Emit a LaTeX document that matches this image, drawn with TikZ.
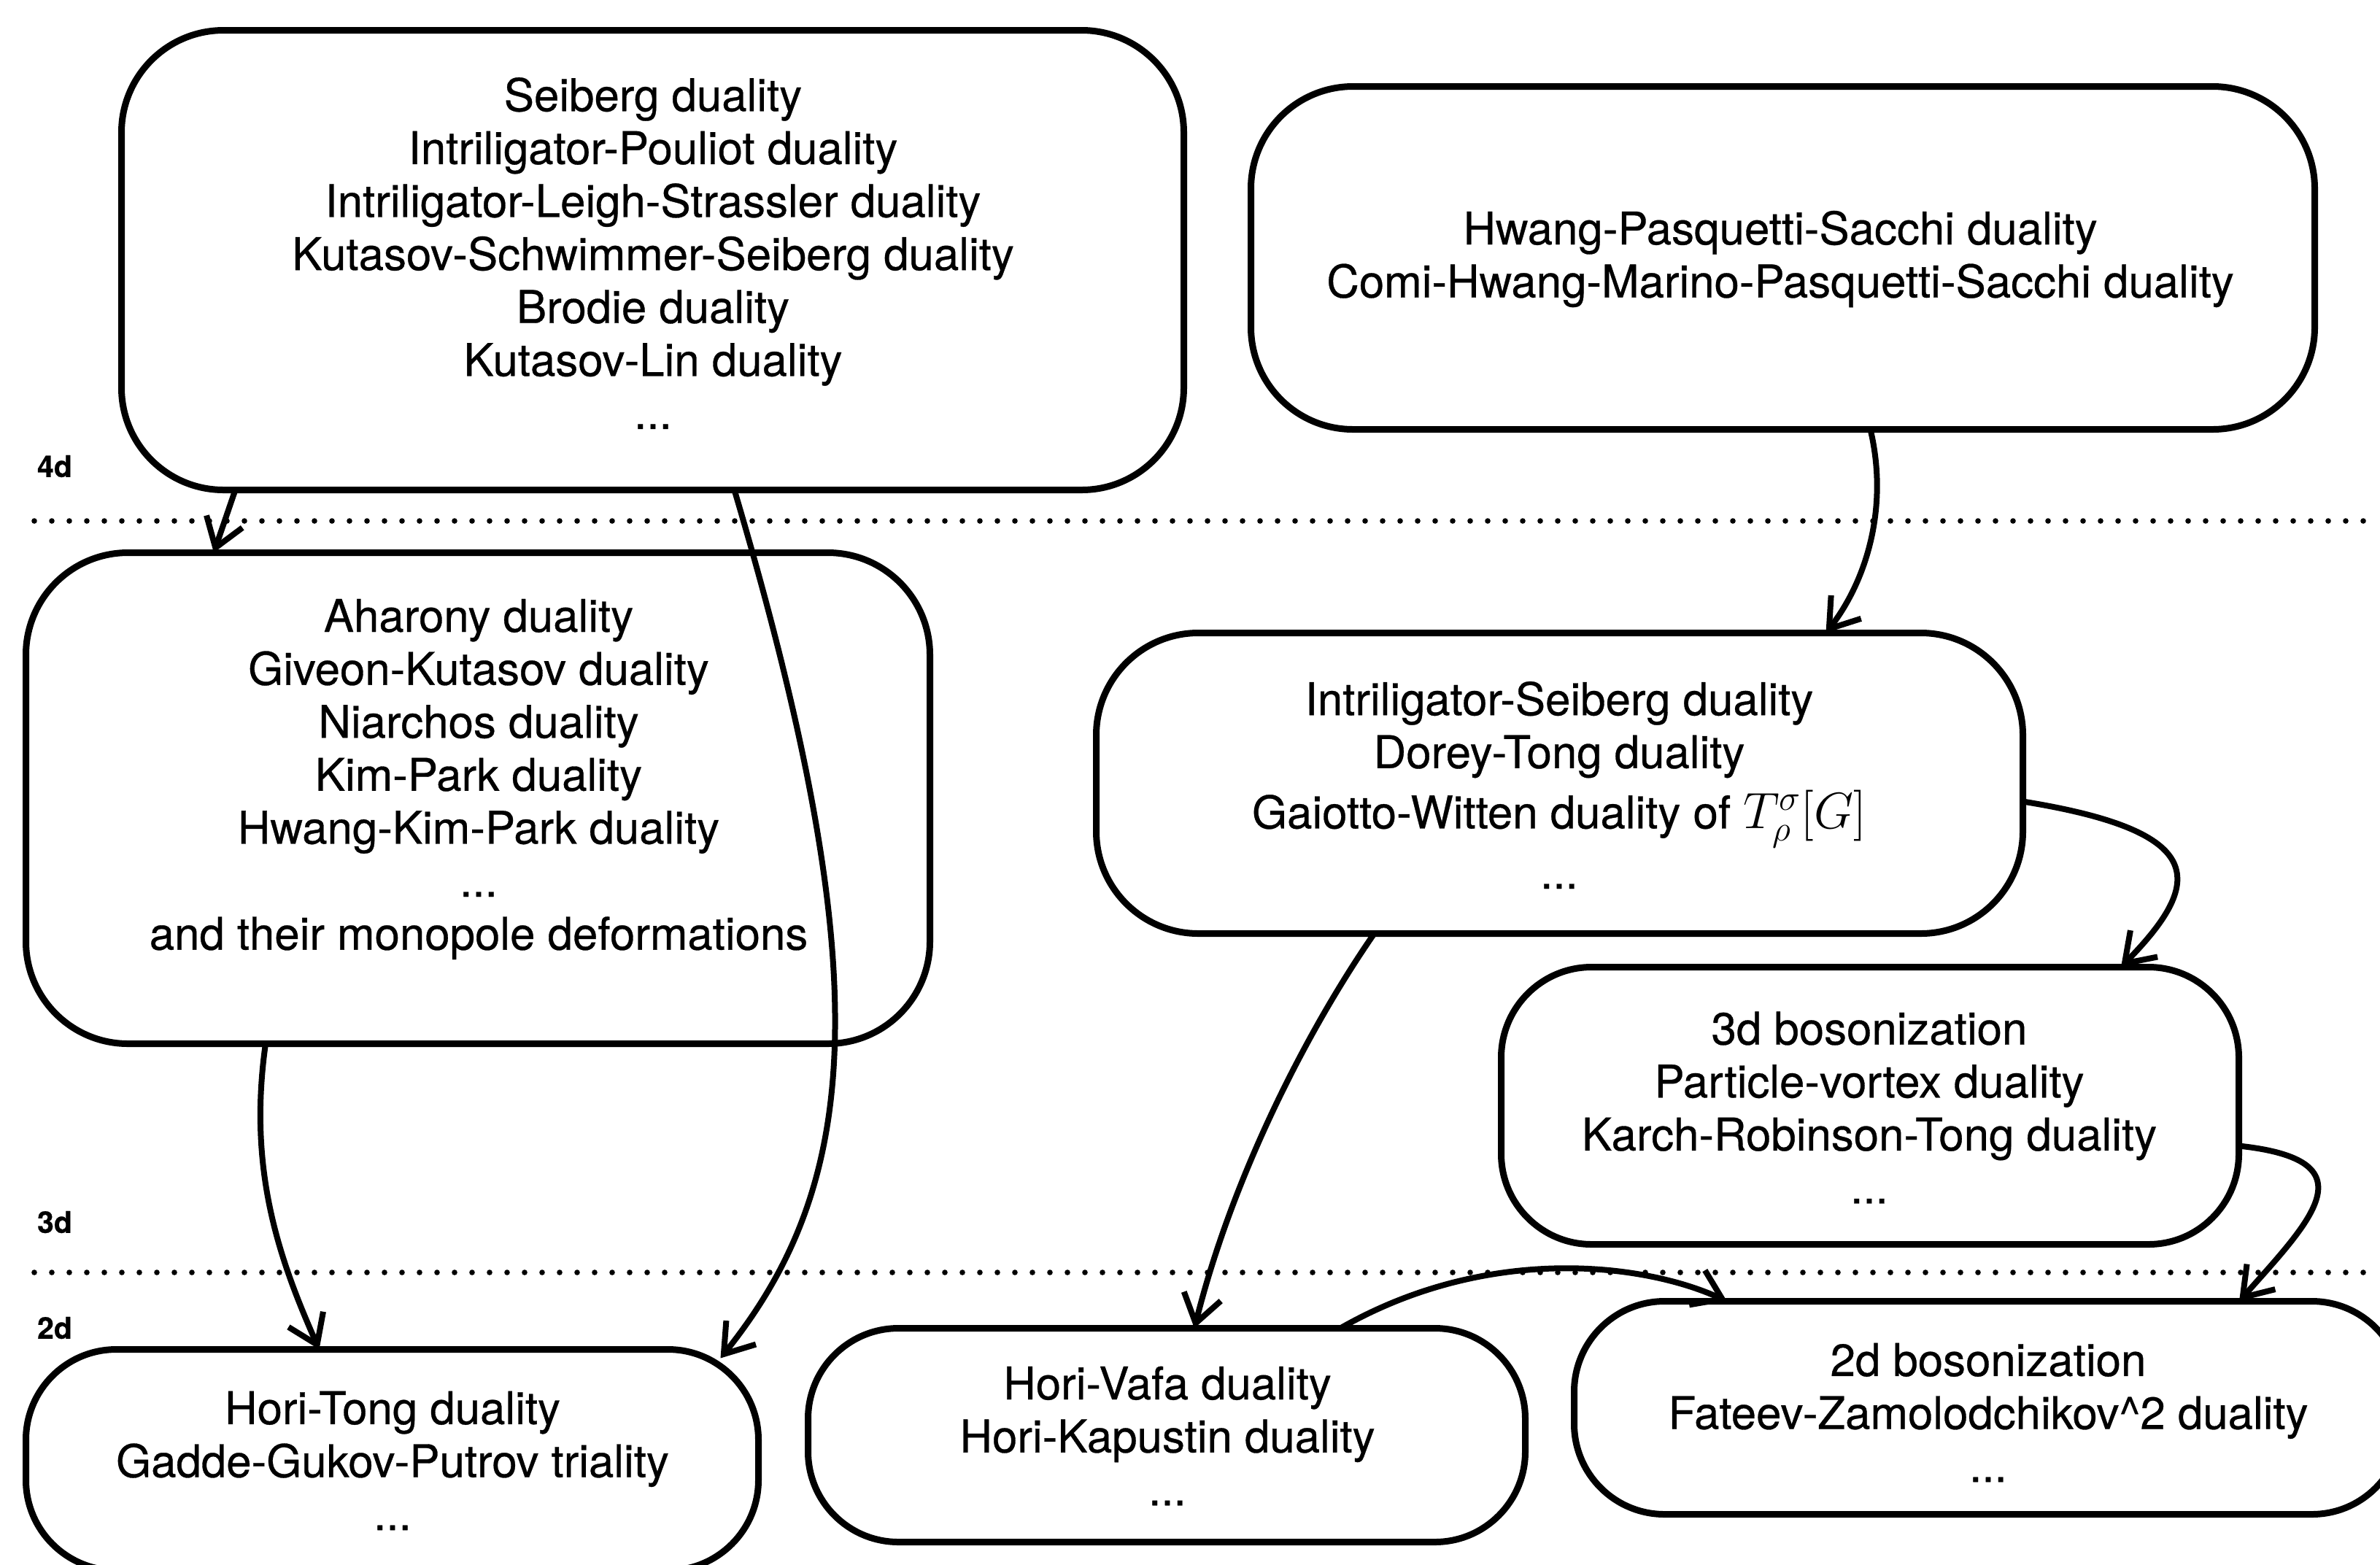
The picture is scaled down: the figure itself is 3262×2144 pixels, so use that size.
\RequirePackage{fix-cm}
\documentclass[tikz,border=0pt]{standalone}
\usepackage{fontspec}
\setmainfont{TeX Gyre Heros}[FakeBold=0.5]
\usetikzlibrary{arrows.meta,calc}

\begin{document}
\begin{tikzpicture}[x=0.5pt,y=-0.5pt,
  every node/.style={inner sep=0pt, outer sep=0pt},
  dualbox/.style={draw, line width=4.5pt, rectangle, rounded corners=#1},
  dualbox/.default=70pt,
  duallist/.style={align=center, font=\fontsize{30.9pt}{36.3pt}\selectfont},
  dimlabel/.style={font=\fontsize{20.5pt}{24pt}\selectfont\bfseries},
  levelline/.style={line width=3.8pt, line cap=round, dash pattern=on 0pt off 12pt},
  flow/.style={line width=4pt, line join=miter, -{Straight Barb[length=19pt,width=26pt]}}
]
\useasboundingbox (0,0) rectangle (3262,2144);

% dimension separators
\draw[levelline] (47,714) -- (3262,714);
\draw[levelline] (47,1744) -- (3262,1744);
\node[dimlabel] (d4) at (75,639) {4d};
\node[dimlabel] (d3) at (75,1675) {3d};
\node[dimlabel] (d2) at (75,1820) {2d};

% 4d boxes
\node[dualbox, minimum width=728pt, minimum height=315pt] (A) at (894.5,356.5) {};
\node[duallist] (At) at (895,347) {Seiberg duality\\Intriligator-Pouliot duality\\Intriligator-Leigh-Strassler duality\\Kutasov-Schwimmer-Seiberg duality\\Brodie duality\\Kutasov-Lin duality\\...};

\node[dualbox, minimum width=729pt, minimum height=235pt] (B) at (2443.5,353.5) {};
\node[duallist] (Bt) at (2440,355) {Hwang-Pasquetti-Sacchi duality\\Comi-Hwang-Marino-Pasquetti-Sacchi duality};

% 3d boxes
\node[dualbox, minimum width=619.5pt, minimum height=336.5pt] (C) at (655,1094) {};
\node[duallist] (Ct) at (656,1068) {Aharony duality\\Giveon-Kutasov duality\\Niarchos duality\\Kim-Park duality\\Hwang-Kim-Park duality\\...\\and their monopole deformations};

\node[dualbox, minimum width=635pt, minimum height=206pt] (D) at (2137.5,1073.5) {};
\node[duallist] (Dt) at (2137,1076) {Intriligator-Seiberg duality\\Dorey-Tong duality\\[5pt]Gaiotto-Witten duality of {\fontsize{35pt}{36.3pt}\selectfont$T^{\sigma}_{\rho}[G]$}\\[5pt]...};

\node[dualbox=62pt, minimum width=505.5pt, minimum height=190pt] (E) at (2563,1515.5) {};
\node[duallist] (Et) at (2562,1518) {3d bosonization\\Particle-vortex duality\\Karch-Robinson-Tong duality\\...};

% 2d boxes
\node[dualbox=62pt, minimum width=502pt, minimum height=151.5pt] (F) at (537.5,2001) {};
\node[duallist] (Ft) at (538,2002) {Hori-Tong duality\\Gadde-Gukov-Putrov triality\\...};

\node[dualbox=62pt, minimum width=491.5pt, minimum height=146.5pt] (G) at (1599,1967) {};
\node[duallist] (Gt) at (1600,1968) {Hori-Vafa duality\\Hori-Kapustin duality\\...};

\node[dualbox=62pt, minimum width=567.5pt, minimum height=146pt] (H) at (2725,1929.5) {};
\node[duallist] (Ht) at (2725,1936) {2d bosonization\\Fateev-Zamolodchikov\^{}2 duality\\...};

% reductions between dimensions
\draw[flow] ($(A.south)+(-572,0)$) -- ($(C.north)+(-362,0)$);
\draw[flow] ($(A.south)+(112,0)$) .. controls (1207,1347) and (1177,1625) .. ($(F.north east)+(-52,12)$);
\draw[flow] ($(C.south)+(-291,0)$) .. controls (340,1600) and (380,1720) .. ($(F.north)+(-100,0)$);
\draw[flow] ($(B.south)+(120,0)$) .. controls (2590,700) and (2555,800) .. ($(D.north)+(365,0)$);
\draw[flow] ($(D.east)+(0,25)$) .. controls (3030,1140) and (3020,1210) .. ($(E.north)+(344,0)$);
\draw[flow] ($(E.east)+(0,55)$) .. controls (3250,1590) and (3170,1670) .. ($(H.north)+(344,0)$);
\draw[flow] ($(D.south)+(-254,0)$) .. controls (1791,1413) and (1689,1613) .. ($(G.north)+(38,0)$);
\draw[flow] ($(G.north)+(238,0)$) .. controls (2037,1706) and (2250,1730) .. ($(H.north)+(-358,0)$);
\end{tikzpicture}
\end{document}
